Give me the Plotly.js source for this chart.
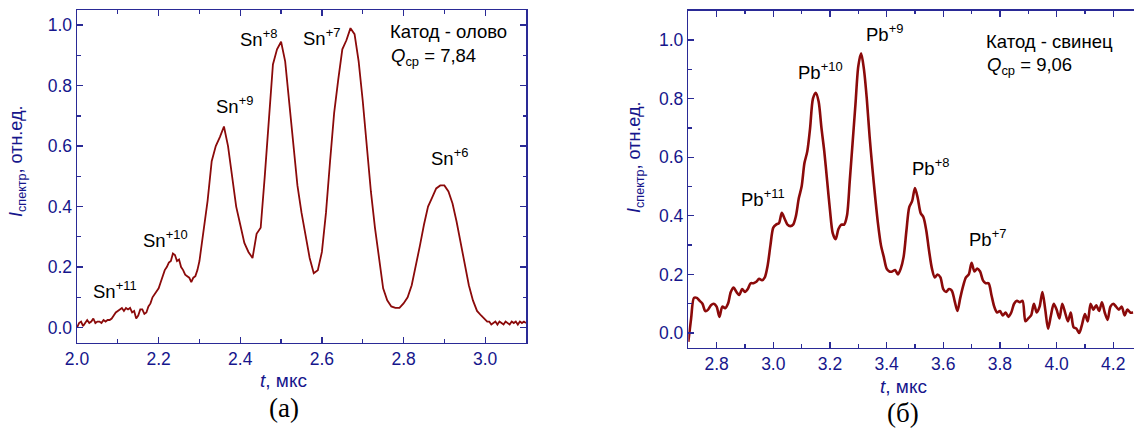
<!DOCTYPE html>
<html>
<head>
<meta charset="utf-8">
<script src="https://cdn.plot.ly/plotly-3.0.1.min.js"></script>
<style>
html,body{margin:0;padding:0;background:#fff;overflow:hidden;}
#chart{width:1134px;height:429px;}
</style>
</head>
<body>
<div id="chart"></div>
<script>
// ---- Data: left panel (cathode - tin) ----
const tSn = [2.000,2.005,2.010,2.015,2.020,2.025,2.030,2.035,2.040,2.045,
  2.050,2.055,2.060,2.065,2.070,2.075,2.080,2.085,2.090,2.095,
  2.100,2.105,2.110,2.115,2.120,2.125,2.130,2.135,2.140,2.145,
  2.150,2.155,2.160,2.165,2.170,2.175,2.180,2.185,2.190,2.195,
  2.200,2.205,2.210,2.215,2.220,2.225,2.230,2.235,2.240,2.245,
  2.250,2.255,2.260,2.265,2.270,2.275,2.280,2.285,2.290,2.295,
  2.30,2.31,2.32,2.33,2.34,2.35,2.36,2.37,2.38,2.39,
  2.40,2.41,2.42,2.43,2.44,2.45,2.46,2.47,2.48,2.49,
  2.50,2.51,2.52,2.53,2.54,2.55,2.56,2.57,2.58,2.59,
  2.60,2.61,2.62,2.63,2.64,2.65,2.66,2.67,2.68,2.69,
  2.70,2.71,2.72,2.73,2.74,2.75,2.76,2.77,2.78,2.79,
  2.80,2.81,2.82,2.83,2.84,2.85,2.86,2.87,2.88,2.89,
  2.90,2.91,2.92,2.93,2.94,2.95,2.96,2.97,2.98,2.99,
  3.000,3.005,3.010,3.015,3.020,3.025,3.030,3.035,3.040,3.045,
  3.050,3.055,3.060,3.065,3.070,3.075,3.080,3.085,3.090,3.095,3.100];
const iSn = [0.00,0.015,0.02,0.005,0.015,0.025,0.015,0.02,0.03,0.015,
  0.02,0.02,0.015,0.025,0.02,0.025,0.025,0.03,0.04,0.05,
  0.055,0.06,0.065,0.055,0.065,0.06,0.065,0.05,0.055,0.03,
  0.04,0.06,0.06,0.045,0.05,0.07,0.08,0.10,0.11,0.12,
  0.13,0.15,0.17,0.19,0.20,0.215,0.22,0.245,0.24,0.22,
  0.225,0.20,0.19,0.175,0.17,0.165,0.15,0.165,0.17,0.19,
  0.22,0.32,0.42,0.55,0.60,0.63,0.665,0.60,0.50,0.40,
  0.34,0.28,0.25,0.23,0.31,0.33,0.50,0.70,0.87,0.92,
  0.945,0.88,0.75,0.60,0.47,0.38,0.30,0.23,0.18,0.19,
  0.25,0.38,0.55,0.71,0.82,0.92,0.95,0.99,0.97,0.88,
  0.75,0.60,0.45,0.33,0.22,0.13,0.09,0.07,0.065,0.065,
  0.08,0.10,0.14,0.20,0.27,0.34,0.40,0.43,0.46,0.47,
  0.47,0.45,0.41,0.35,0.28,0.21,0.14,0.09,0.055,0.04,
  0.025,0.02,0.02,0.01,0.015,0.02,0.01,0.02,0.015,0.01,
  0.02,0.015,0.01,0.02,0.015,0.02,0.01,0.02,0.015,0.02,0.015];

// ---- Data: right panel (cathode - lead) ----
const tPb = [2.70,2.71,2.72,2.73,2.74,2.75,2.76,2.77,2.78,2.79,
  2.80,2.81,2.82,2.83,2.84,2.85,2.86,2.87,2.88,2.89,
  2.90,2.91,2.92,2.93,2.94,2.95,2.96,2.97,2.98,2.99,
  3.00,3.01,3.02,3.03,3.04,3.05,3.06,3.07,3.08,3.09,
  3.10,3.11,3.12,3.13,3.14,3.15,3.16,3.17,3.18,3.19,
  3.20,3.21,3.22,3.23,3.24,3.25,3.26,3.27,3.28,3.29,
  3.30,3.31,3.32,3.33,3.34,3.35,3.36,3.37,3.38,3.39,
  3.40,3.41,3.42,3.43,3.44,3.45,3.46,3.47,3.48,3.49,
  3.50,3.51,3.52,3.53,3.54,3.55,3.56,3.57,3.58,3.59,
  3.60,3.61,3.62,3.63,3.64,3.65,3.66,3.67,3.68,3.69,
  3.70,3.71,3.72,3.73,3.74,3.75,3.76,3.77,3.78,3.79,
  3.80,3.81,3.82,3.83,3.84,3.85,3.86,3.87,3.88,3.89,
  3.90,3.91,3.92,3.93,3.94,3.95,3.96,3.97,3.98,3.99,
  4.00,4.01,4.02,4.03,4.04,4.05,4.06,4.07,4.08,4.09,
  4.10,4.11,4.12,4.13,4.14,4.15,4.16,4.17,4.18,4.19,
  4.20,4.21,4.22,4.23,4.24,4.25,4.26,4.27];
const iPb = [-0.03,0.05,0.12,0.12,0.11,0.10,0.075,0.08,0.095,0.10,
  0.09,0.055,0.09,0.085,0.10,0.14,0.155,0.14,0.13,0.15,
  0.14,0.15,0.17,0.17,0.175,0.185,0.18,0.19,0.23,0.30,
  0.36,0.37,0.375,0.41,0.39,0.37,0.365,0.37,0.40,0.46,
  0.50,0.58,0.62,0.70,0.80,0.82,0.79,0.70,0.62,0.52,
  0.42,0.34,0.32,0.355,0.37,0.37,0.40,0.52,0.65,0.78,
  0.91,0.955,0.90,0.80,0.67,0.56,0.46,0.37,0.30,0.26,
  0.22,0.21,0.21,0.215,0.20,0.22,0.26,0.35,0.43,0.45,
  0.495,0.46,0.41,0.395,0.35,0.28,0.22,0.19,0.20,0.19,
  0.15,0.14,0.15,0.145,0.11,0.075,0.12,0.16,0.19,0.20,
  0.24,0.21,0.22,0.21,0.18,0.17,0.17,0.13,0.09,0.07,
  0.075,0.06,0.07,0.055,0.07,0.10,0.11,0.105,0.11,0.04,
  0.05,0.06,0.10,0.07,0.09,0.14,0.08,0.015,0.06,0.10,
  0.08,0.05,0.10,0.07,0.04,0.07,0.02,0.015,0.00,0.03,
  0.065,0.04,0.10,0.08,0.095,0.075,0.105,0.07,0.045,0.09,
  0.10,0.09,0.08,0.09,0.06,0.08,0.07,0.07];

// ---- Labels ----
const snLabels = ["Sn<sup>+11</sup>","Sn<sup>+10</sup>","Sn<sup>+9</sup>","Sn<sup>+8</sup>","Sn<sup>+7</sup>","Sn<sup>+6</sup>"];
const snLabelX = [2.094, 2.216, 2.385, 2.444, 2.599, 2.912];
const snLabelY = [0.124, 0.293, 0.736, 0.957, 0.960, 0.564];
const pbLabels = ["Pb<sup>+11</sup>","Pb<sup>+10</sup>","Pb<sup>+9</sup>","Pb<sup>+8</sup>","Pb<sup>+7</sup>"];
const pbLabelX = [2.965, 3.166, 3.393, 3.556, 3.757];
const pbLabelY = [0.462, 0.895, 1.025, 0.568, 0.323];
const snInfo = ["Катод - олово", "<i>Q</i><sub>ср</sub> = 7,84"];
const pbInfo = ["Катод - свинец", "<i>Q</i><sub>ср</sub> = 9,06"];
const yTitle = "<i>I</i><sub>спектр</sub>, отн.ед.";
const xTitle = "<i>t</i>, мкс";
const panelLabels = ["(а)", "(б)"];

// ---- Styling ----
const axisColor = "#2a2a96";
const tickColor = "#16168c";
const traceColor = "#8b0a0a";
const sans = "Liberation Sans, Arial, sans-serif";
const serif = "Liberation Serif, Times New Roman, serif";
const labelSize = 18.5;

function minorTicks() {
  return {ticks: "inside", ticklen: 3.5, tickwidth: 1.3, tickcolor: axisColor, dtick: 0.1, showgrid: false};
}
function axisBase(extra) {
  return Object.assign({
    showgrid: false, zeroline: false, showline: true, linecolor: axisColor, linewidth: 1.5,
    ticks: "inside", ticklen: 6, tickwidth: 1.3, tickcolor: axisColor,
    tickfont: {family: sans, size: 17.5, color: tickColor},
    tickformat: ".1f",
    minor: minorTicks()
  }, extra);
}

const traces = [
  {x: tSn, y: iSn, xaxis: "x", yaxis: "y", mode: "lines", line: {color: traceColor, width: 1.8}, hoverinfo: "skip"},
  {x: tPb, y: iPb, xaxis: "x2", yaxis: "y2", mode: "lines", line: {color: traceColor, width: 2.6, shape: "spline", smoothing: 0.8}, hoverinfo: "skip"}
];

const annotations = [];
snLabels.forEach((s, i) => annotations.push({xref: "x", yref: "y", x: snLabelX[i], y: snLabelY[i], text: s, showarrow: false,
  xanchor: "center", yanchor: "middle", font: {family: sans, size: labelSize, color: "#000"}}));
pbLabels.forEach((s, i) => annotations.push({xref: "x2", yref: "y2", x: pbLabelX[i], y: pbLabelY[i], text: s, showarrow: false,
  xanchor: "center", yanchor: "middle", font: {family: sans, size: labelSize, color: "#000"}}));
annotations.push({xref: "x", yref: "y", x: 2.762, y: 0.978, text: snInfo[0], showarrow: false, xanchor: "left", yanchor: "middle", font: {family: sans, size: 18.5, color: "#000"}});
annotations.push({xref: "x", yref: "y", x: 2.764, y: 0.895, text: snInfo[1], showarrow: false, xanchor: "left", yanchor: "middle", font: {family: sans, size: 18.5, color: "#000"}});
annotations.push({xref: "x2", yref: "y2", x: 3.744, y: 0.995, text: pbInfo[0], showarrow: false, xanchor: "left", yanchor: "middle", font: {family: sans, size: 18.5, color: "#000"}});
annotations.push({xref: "x2", yref: "y2", x: 3.748, y: 0.91, text: pbInfo[1], showarrow: false, xanchor: "left", yanchor: "middle", font: {family: sans, size: 18.5, color: "#000"}});
// axis titles
annotations.push({xref: "paper", yref: "paper", x: 17/1134, y: (429-162)/429, text: yTitle, textangle: -90, showarrow: false,
  xanchor: "center", yanchor: "middle", font: {family: sans, size: 18, color: tickColor}});
annotations.push({xref: "paper", yref: "paper", x: 636/1134, y: (429-158)/429, text: yTitle, textangle: -90, showarrow: false,
  xanchor: "center", yanchor: "middle", font: {family: sans, size: 18, color: tickColor}});
annotations.push({xref: "paper", yref: "paper", x: 283.5/1134, y: (429-380)/429, text: xTitle, showarrow: false,
  xanchor: "center", yanchor: "middle", font: {family: sans, size: 19, color: tickColor}});
annotations.push({xref: "paper", yref: "paper", x: 903/1134, y: (429-386)/429, text: xTitle, showarrow: false,
  xanchor: "center", yanchor: "middle", font: {family: sans, size: 19, color: tickColor}});
annotations.push({xref: "paper", yref: "paper", x: 284/1134, y: (429-407.5)/429, text: panelLabels[0], showarrow: false,
  xanchor: "center", yanchor: "middle", font: {family: serif, size: 27, color: "#000"}});
annotations.push({xref: "paper", yref: "paper", x: 903/1134, y: (429-412.5)/429, text: panelLabels[1], showarrow: false,
  xanchor: "center", yanchor: "middle", font: {family: serif, size: 27, color: "#000"}});

const layout = {
  width: 1134, height: 429,
  margin: {l: 0, r: 0, t: 0, b: 0, pad: 0},
  paper_bgcolor: "#fff", plot_bgcolor: "#fff",
  showlegend: false,
  xaxis: axisBase({domain: [77/1134, 526/1134], range: [2.0, 3.1], tick0: 2.0, dtick: 0.2, mirror: "ticks", anchor: "y"}),
  yaxis: axisBase({domain: [(429-342.7)/429, (429-10)/429], range: [-0.05, 1.05], tick0: 0, dtick: 0.2, mirror: "ticks", anchor: "x"}),
  xaxis2: axisBase({domain: [688.3/1134, 1], range: [2.7, 2.7 + (1134-688.3)/283.3], tick0: 2.8, dtick: 0.2, mirror: "ticks", anchor: "y2"}),
  yaxis2: axisBase({domain: [(429-347.7)/429, (429-10.7)/429], range: [-0.05, 1.1], tick0: 0, dtick: 0.2, mirror: false, anchor: "x2"}),
  annotations: annotations
};

Plotly.newPlot("chart", traces, layout, {staticPlot: true, displayModeBar: false});
</script>
</body>
</html>
